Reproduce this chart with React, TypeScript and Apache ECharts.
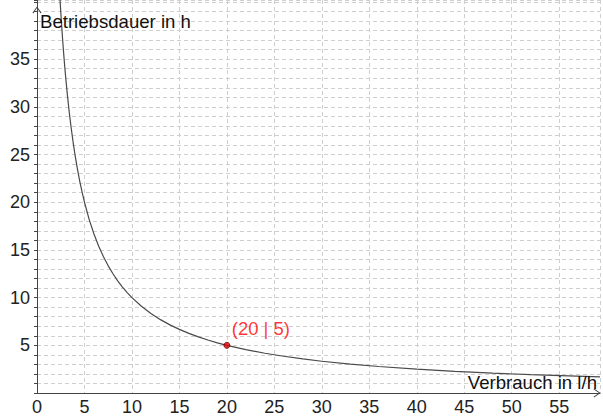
import React, { useEffect, useRef } from "react";
import * as echarts from "echarts";

// Betriebsdauer (h) over Verbrauch (l/h)
const verbrauch = [2.35, 2.4, 2.5, 2.6, 2.7, 2.8, 2.9, 3, 3.2, 3.4, 3.6, 3.8, 4, 4.25, 4.5, 4.75, 5, 5.5, 6, 6.5, 7, 7.5, 8, 8.5, 9, 9.5, 10, 11, 12, 13, 14, 15, 16, 17, 18, 19, 20, 22, 24, 26, 28, 30, 33, 36, 40, 44, 48, 52, 56, 59.3];
const betriebsdauer = [42.55, 41.67, 40, 38.46, 37.04, 35.71, 34.48, 33.33, 31.25, 29.41, 27.78, 26.32, 25, 23.53, 22.22, 21.05, 20, 18.18, 16.67, 15.38, 14.29, 13.33, 12.5, 11.76, 11.11, 10.53, 10, 9.09, 8.33, 7.69, 7.14, 6.67, 6.25, 5.88, 5.56, 5.26, 5, 4.55, 4.17, 3.85, 3.57, 3.33, 3.03, 2.78, 2.5, 2.27, 2.08, 1.92, 1.79, 1.69];
const markedPoint = [20, 5];
const markedLabel = "(20 | 5)";
const xTitle = "Verbrauch in l/h";
const yTitle = "Betriebsdauer in h";
const xLabelValues = [0, 5, 10, 15, 20, 25, 30, 35, 40, 45, 50, 55];
const yLabelValues = [5, 10, 15, 20, 25, 30, 35];

const FONT = "Liberation Sans, Arial, sans-serif";
const chevron = "path://M5,0 L10,7 L9.1,7.7 L5,1.7 L0.9,7.7 L0,7 Z";

export default function App() {
  const ref = useRef<HTMLDivElement>(null);
  useEffect(() => {
    if (!ref.current) return;
    const chart = echarts.init(ref.current, null, { renderer: "svg" });
    const curve = verbrauch.map((x, i) => [x, betriebsdauer[i]]);
    chart.setOption({
      animation: false,
      backgroundColor: "#ffffff",
      grid: { left: 37, right: 0, top: 0, bottom: 24, containLabel: false },
      xAxis: {
        type: "value",
        min: 0,
        max: 59.3,
        interval: 5,
        axisLine: {
          show: true,
          onZero: false,
          symbol: ["none", chevron],
          symbolSize: [10, 7],
          symbolOffset: [0, -3],
          lineStyle: { color: "#444", width: 1 },
        },
        axisTick: { show: false },
        axisLabel: {
          margin: 5,
          fontFamily: FONT,
          fontSize: 18,
          color: "#222",
          formatter: (v: number) => (xLabelValues.includes(v) ? String(v) : ""),
        },
        splitLine: { show: true, lineStyle: { color: "#cfcfcf", type: [4, 3], width: 1 } },
      },
      yAxis: {
        type: "value",
        min: 0,
        max: 41.2,
        interval: 1,
        axisLine: {
          show: true,
          onZero: false,
          symbol: ["none", chevron],
          symbolSize: [10, 7],
          symbolOffset: [0, -10],
          lineStyle: { color: "#444", width: 1 },
        },
        axisTick: { show: true, length: 3, lineStyle: { color: "#444" } },
        axisLabel: {
          margin: 7,
          fontFamily: FONT,
          fontSize: 18,
          color: "#222",
          formatter: (v: number) => (yLabelValues.includes(v) ? String(v) : ""),
        },
        splitLine: { show: true, lineStyle: { color: "#cfcfcf", type: [4, 3], width: 1 } },
      },
      graphic: [
        {
          type: "text",
          left: 40,
          top: 12,
          style: { text: yTitle, fontFamily: FONT, fontSize: 18.6, fill: "#111" },
          z: 10,
        },
        {
          type: "text",
          right: 6,
          top: 373,
          style: { text: xTitle, fontFamily: FONT, fontSize: 18.6, fill: "#111" },
          z: 10,
        },
      ],
      series: [
        {
          type: "line",
          data: curve,
          smooth: false,
          showSymbol: false,
          clip: true,
          lineStyle: { color: "#4a4a4a", width: 1.2 },
          z: 3,
        },
        {
          type: "scatter",
          data: [markedPoint],
          symbolSize: 6,
          itemStyle: { color: "#e00000", borderColor: "#600000", borderWidth: 1 },
          label: {
            show: true,
            formatter: markedLabel,
            position: "top",
            offset: [34, 0],
            distance: 4,
            fontFamily: FONT,
            fontSize: 18.5,
            color: "#ff0000",
          },
          z: 5,
        },
      ],
    });
    return () => chart.dispose();
  }, []);
  return <div ref={ref} style={{ width: 603, height: 417, position: "absolute", left: 0, top: 0 }} />;
}
